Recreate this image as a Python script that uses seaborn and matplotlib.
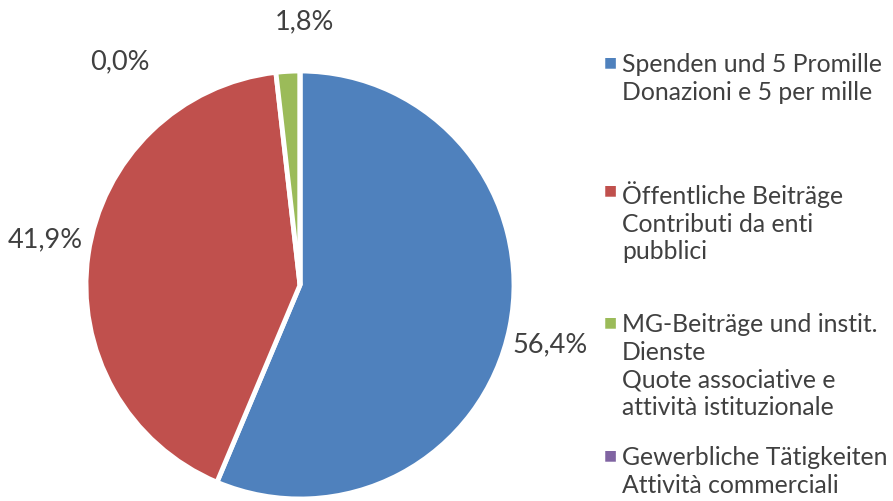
import matplotlib
matplotlib.use("Agg")
import matplotlib.pyplot as plt
import seaborn as sns

# data
categories = [
    "Spenden und 5 Promille\nDonazioni e 5 per mille",
    "Öffentliche Beiträge\nContributi da enti\npubblici",
    "MG-Beiträge und instit.\nDienste\nQuote associative e\nattività istituzionale",
    "Gewerbliche Tätigkeiten\nAttività commerciali",
]
shares = [56.4, 41.9, 1.8, 0.0]
colors = ["#4F81BD", "#C0504D", "#9BBB59", "#8064A2"]

sns.set_theme(style="white")
plt.rcParams['font.family'] = ['Lato', 'DejaVu Sans']
text_color = "#404040"

fig = plt.figure(figsize=(8.93, 5.02), dpi=100)
ax = fig.add_axes([86 / 893, 2 / 502, 428 / 893, 428 / 502])

wedges, _ = ax.pie(shares, colors=colors, startangle=90, counterclock=False,
                   radius=1, wedgeprops=dict(edgecolor="white", linewidth=3.5))
ax.set_xlim(-1, 1)
ax.set_ylim(-1, 1)
ax.set_aspect("equal")
ax.axis("off")

# percentage labels (positions)
label_pos = [(1.168, -0.276), (-1.192, 0.215), (0.023, 1.234), (-0.841, 1.047)]
for val, (x, y) in zip(shares, label_pos):
    ax.text(x, y, f"{val:.1f}%".replace(".", ","), ha="center", va="center",
            fontsize=19.5, color=text_color, clip_on=False)

# legend, drawn by hand to get Excel-like spacing
legend_top = [62, 190, 322, 455]
for lab, col, ytop in zip(categories, colors, legend_top):
    yf = 1 - ytop / 502
    fig.text(604 / 893, yf, "■", color=col, fontsize=10, ha="left", va="center")
    fig.text(622 / 893, yf + 9 / 502, lab, color=text_color, fontsize=17.8,
             ha="left", va="top", linespacing=1.25)

fig.savefig("out.png", dpi=100)
